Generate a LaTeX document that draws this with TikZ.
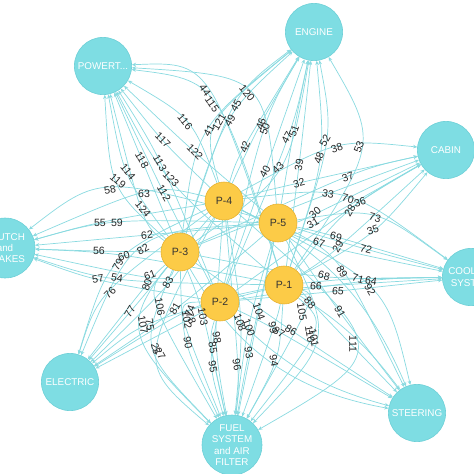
\documentclass[tikz,border=0pt]{standalone}
\usepackage{fontspec}
\setmainfont{Liberation Sans}
\usetikzlibrary{arrows.meta,calc,backgrounds}
\definecolor{sysfill}{HTML}{7EDDE3}
\definecolor{sysline}{HTML}{6CCFD6}
\definecolor{partfill}{HTML}{FCCB47}
\definecolor{partline}{HTML}{E5B030}
\definecolor{linkcol}{HTML}{8ADAE0}
\tikzset{
  sys/.style={circle, fill=sysfill, draw=sysline, line width=0.4pt, minimum size=1.43cm,
    inner sep=0pt, text=white, align=center, font=\fontsize{7}{8}\selectfont},
  part/.style={circle, fill=partfill, draw=partline, line width=0.4pt, minimum size=0.95cm,
    inner sep=0pt, text=black!80, font=\fontsize{7.5}{8}\selectfont},
  link/.style={draw=linkcol, line width=0.5pt, -{Stealth[length=3pt,width=2.6pt]}},
  num/.style={inner sep=0pt, text=black!85, font=\fontsize{7.5}{8}\selectfont},
}

\begin{document}
\begin{tikzpicture}[x=0.025cm, y=-0.025cm]
\useasboundingbox (0,0) rectangle (474,474);
% systems
\node[sys] (POW) at (103,66) {POWERT...};
\node[sys] (ENG) at (314,32) {ENGINE};
\node[sys] (CAB) at (446,150) {CABIN};
\node[sys] (COO) at (471,277) {COOLING\\SYSTEM};
\node[sys] (STE) at (417,413) {STEERING};
\node[sys, minimum size=1.5cm] (FUE) at (232,445) {FUEL\\SYSTEM\\and AIR\\FILTER};
\node[sys] (ELE) at (70,382) {ELECTRIC};
\node[sys, minimum size=1.5cm] (CLU) at (5,248) {CLUTCH\\and\\BRAKES};
% parts
\node[part] (P4) at (224,201) {P-4};
\node[part] (P5) at (278,223) {P-5};
\node[part] (P3) at (180,252) {P-3};
\node[part] (P1) at (284,285) {P-1};
\node[part] (P2) at (220,302) {P-2};
% links: source/target/x/y/angle/label
\foreach \src/\dst/\px/\py/\ang/\lbl in {
  P1/POW/205/90/-55/44, P1/POW/212/104/-55/115, P4/POW/185/122/-50/116,
  P4/POW/163/140/-45/117, P5/POW/195/152/-45/122, P3/POW/142/160/-60/118,
  P2/POW/160/163/-60/113, P1/POW/171/179/-45/123, P3/POW/128/172/-50/114,
  P3/POW/118/181/-40/119, P2/POW/164/193/-60/112, P3/POW/143/209/-50/124,
  P5/POW/247/93/-50/120,
  P3/ENG/209/131/60/41, P4/ENG/219/122/60/121, P3/ENG/230/121/60/49,
  P3/ENG/236/106/60/45, P4/ENG/245/147/70/42, P4/ENG/261/124/70/46,
  P2/ENG/265/129/70/50, P2/ENG/265/172/60/40, P3/ENG/278/168/45/43,
  P2/ENG/287/138/60/47, P5/ENG/294/131/70/51, P1/ENG/325/141/60/52,
  P1/ENG/359/147/70/53, P1/ENG/319/158/70/48, P1/ENG/299/165/80/39,
  P4/CAB/337/148/20/38, P4/CAB/299/183/15/32, P3/CAB/348/177/20/37,
  P3/CAB/328/194/-10/33, P2/CAB/360/202/15/36, P5/CAB/315/213/40/30,
  P1/CAB/350/211/60/28, P5/CAB/313/223/30/31, P1/CAB/338/247/60/29,
  P1/CAB/373/230/20/35,
  P4/COO/348/199/-15/70, P5/COO/375/218/-15/73, P5/COO/336/237/-15/69,
  P4/COO/319/243/-15/67, P5/COO/366/249/-15/72, P3/COO/324/276/-15/68,
  P1/COO/358/279/-15/71, P2/COO/371/281/-10/64, P1/COO/316/286/-5/66,
  P2/COO/338/291/-5/65,
  P5/STE/342/272/-60/89, P4/STE/370/290/-60/92, P1/STE/310/303/-50/88,
  P5/STE/340/312/-60/91, P2/STE/279/332/-30/87, P3/STE/291/330/-30/86,
  P1/FUE/302/312/-80/105, P4/FUE/353/344/-90/111, P5/FUE/259/312/-70/104,
  P4/FUE/240/323/-70/108, P5/FUE/249/328/-70/100, P1/FUE/273/328/-80/99,
  P5/FUE/249/353/-80/93, P1/FUE/274/361/-80/94, P4/FUE/237/365/-80/96,
  P3/FUE/203/317/-80/103, P3/FUE/160/307/-80/106, P2/FUE/187/320/-80/102,
  P4/FUE/143/325/-80/107, P3/FUE/188/343/-80/90, P2/FUE/213/348/-80/85,
  P4/FUE/217/338/-80/98, P2/FUE/213/367/-80/95, P1/FUE/310/334/-80/110,
  P5/FUE/314/338/-80/101, P3/FUE/156/349/-75/25, P4/FUE/160/354/-60/27,
  P4/ELE/168/283/60/83, P3/ELE/147/285/70/80, P5/ELE/175/309/60/81,
  P3/ELE/130/312/60/77, P4/ELE/110/293/45/76, P4/ELE/118/265/60/79,
  P5/ELE/143/249/30/82, P1/ELE/190/311/70/74, P2/ELE/191/318/-70/78,
  P1/ELE/150/325/-80/75,
  P5/CLU/110/190/10/58, P4/CLU/144/194/0/63, P4/CLU/100/223/0/55,
  P5/CLU/117/223/0/59, P3/CLU/99/251/0/56, P1/CLU/124/256/20/60,
  P5/CLU/147/235/5/62, P2/CLU/98/279/10/57, P1/CLU/117/278/-10/54,
  P3/CLU/150/275/20/61}
{
  \node[num, rotate=\ang] (l\lbl) at (\px,\py) {\lbl};
  \begin{scope}[on background layer]
    \draw[link] (\src) .. controls ($1.3333*(l\lbl)-0.16667*(\src)-0.16667*(\dst)$) .. (\dst);
  \end{scope}
}
% links without a label
\begin{scope}[on background layer]
\draw[link] (P2) to[bend right=15] (STE);
\draw[link] (P1) to[bend left=10] (STE);
\draw[link] (P4) to[bend left=20] (STE);
\draw[link] (P3) to[bend right=25] (STE);
\end{scope}
\end{tikzpicture}
\end{document}
